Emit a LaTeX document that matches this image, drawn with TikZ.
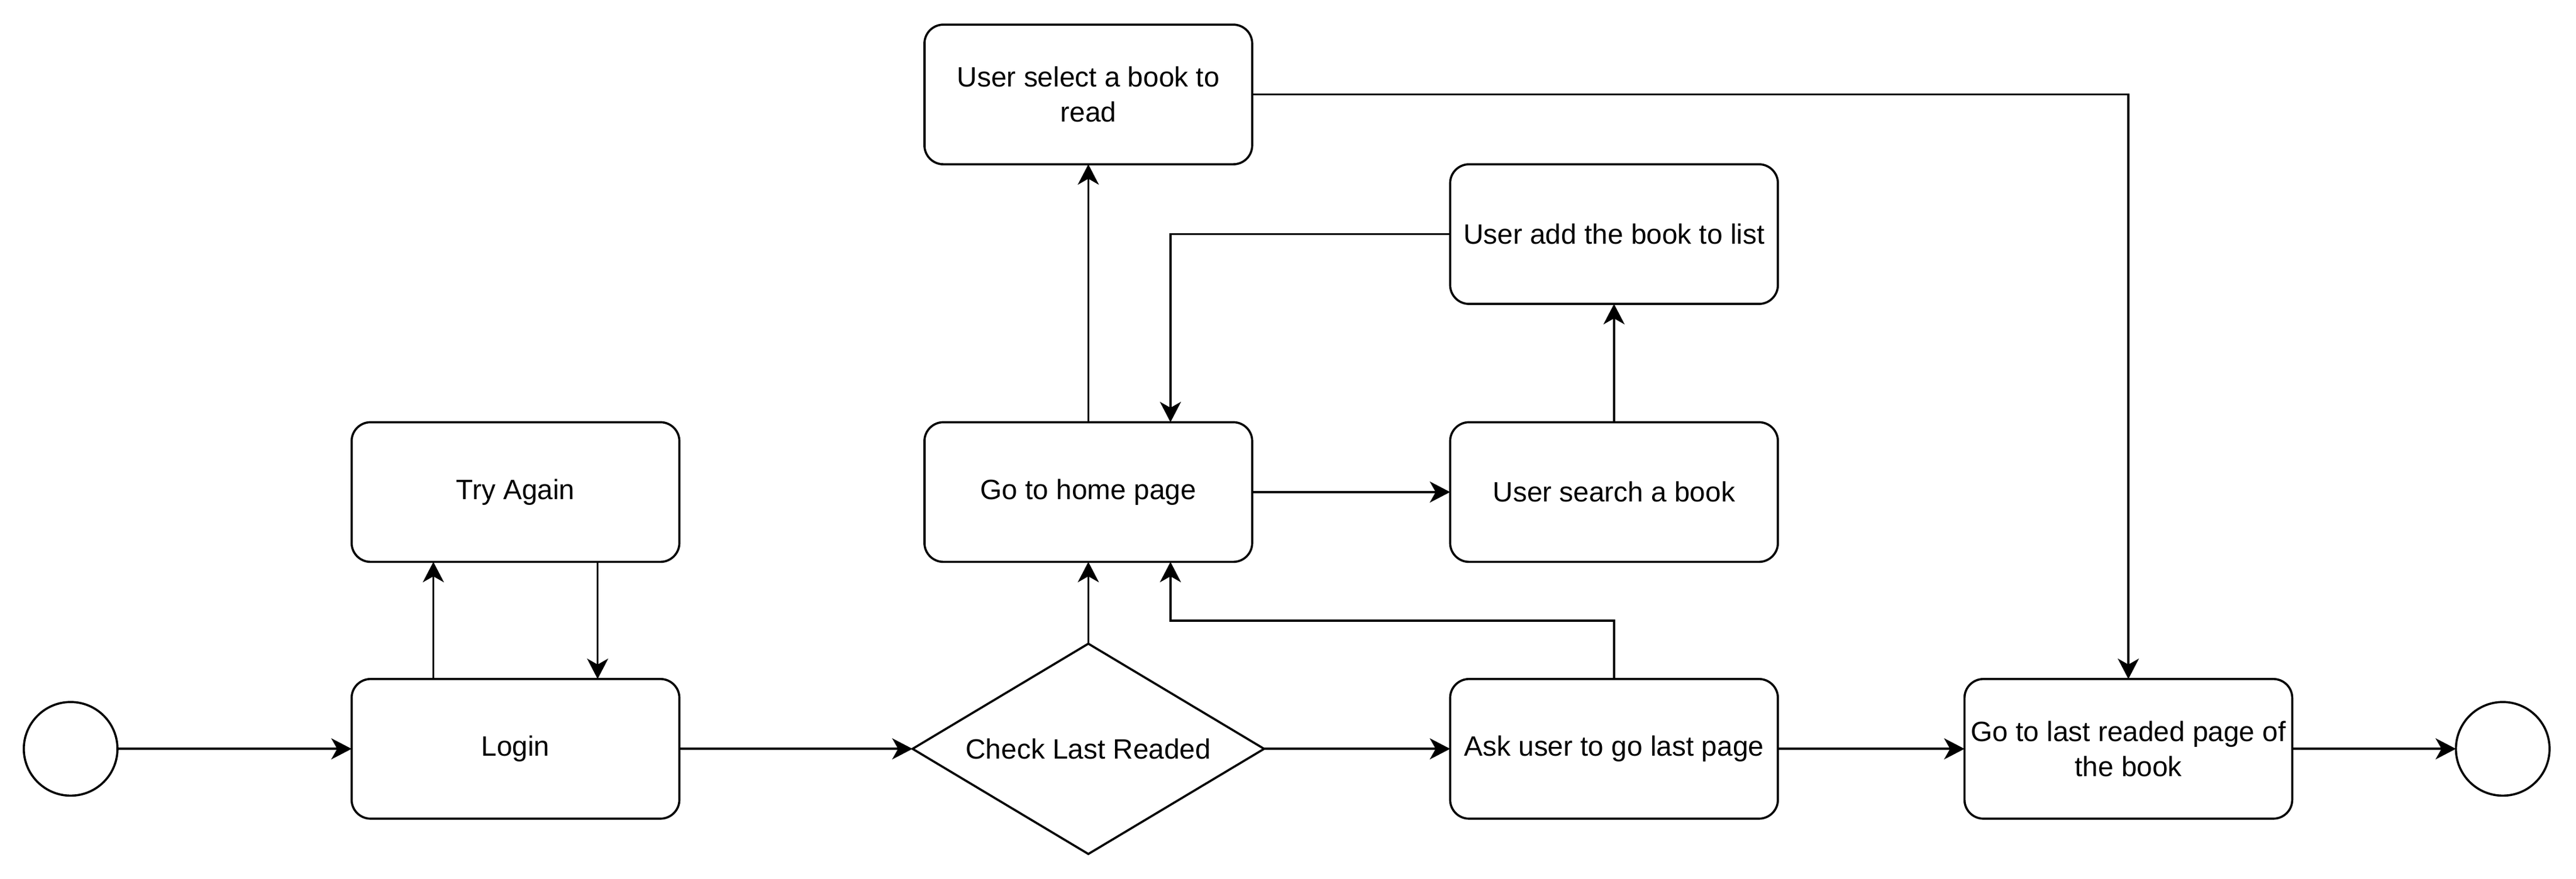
\documentclass[tikz,border=0pt]{standalone}
\usepackage{fontspec}
\setmainfont{Liberation Sans}
\usetikzlibrary{shapes.geometric,arrows.meta}
\tikzset{
  box/.style={draw, rounded corners=5.75pt, line width=0.65pt, minimum width=99.75pt, minimum height=42.5pt, inner sep=0pt, outer sep=0pt, align=center, font=\fontsize{8.5pt}{10.65pt}\selectfont},
  decision/.style={draw, diamond, aspect=1.67, line width=0.65pt, minimum width=107pt, minimum height=64pt, inner sep=0pt, outer sep=0pt, align=center, font=\fontsize{8.5pt}{10.65pt}\selectfont},
  term/.style={draw, circle, line width=0.65pt, minimum size=28.5pt, inner sep=0pt, outer sep=0pt},
  conn/.style={line width=0.65pt, -{Stealth[length=6.2pt, width=6.4pt, inset=1.8pt]}}
}
\begin{document}
\begin{tikzpicture}[x=0.5pt, y=-0.5pt]
\useasboundingbox (0,0) rectangle (1568.1,535);
\node[term] (start) at (43,455.8) {};
\node[term] (stop) at (1523.5,455.8) {};
\node[box] (login) at (313.8,455.8) {Login};
\node[box] (try) at (313.8,299.5) {Try Again};
\node[decision] (dia) at (662.5,455.8) {Check Last Readed};
\node[box] (home) at (662.5,299.5) {Go to home page};
\node[box] (select) at (662.5,57.5) {User select a book to\\read};
\node[box] (add) at (982.5,142.5) {User add the book to list};
\node[box] (search) at (982.5,299.5) {User search a book};
\node[box] (ask) at (982.5,455.8) {Ask user to go last page};
\node[box] (golast) at (1295.6,455.8) {Go to last readed page of\\the book};
\coordinate (k1) at (982.5,377.7);

\draw[conn] (start.east) -- (login.west);
\draw[conn] ([xshift=-25pt]login.north) -- ([xshift=-25pt]try.south);
\draw[conn] ([xshift=25pt]try.south) -- ([xshift=25pt]login.north);
\draw[conn] (login.east) -- (dia.west);
\draw[conn] (dia.north) -- (home.south);
\draw[conn] (home.north) -- (select.south);
\draw[conn] (home.east) -- (search.west);
\draw[conn] (search.north) -- (add.south);
\draw[conn] (add.west) -| ([xshift=25pt]home.north);
\draw[conn] (ask.north) -- (k1) -| ([xshift=25pt]home.south);
\draw[conn] (dia.east) -- (ask.west);
\draw[conn] (ask.east) -- (golast.west);
\draw[conn] (select.east) -| (golast.north);
\draw[conn] (golast.east) -- (stop.west);
\end{tikzpicture}
\end{document}
